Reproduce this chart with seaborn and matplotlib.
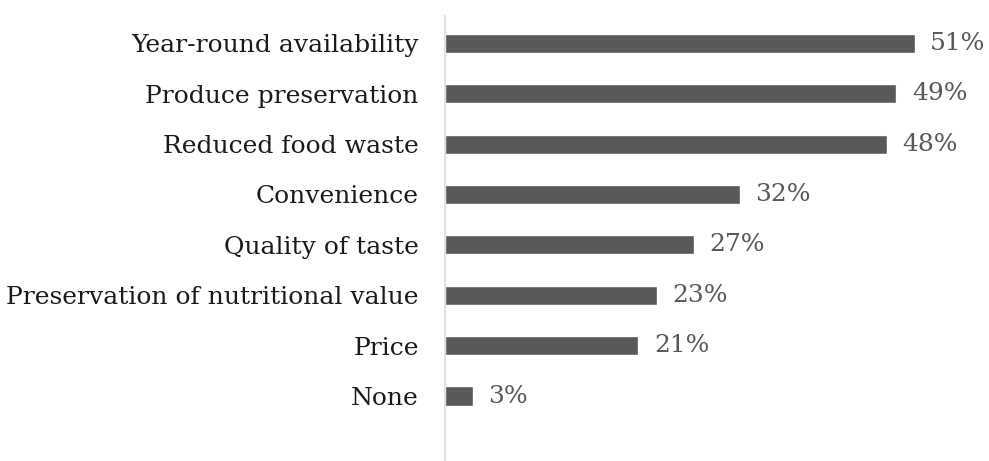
import pandas as pd
import numpy as np
import matplotlib.pyplot as plt
import seaborn as sns

categories = ['Year-round availability', 'Produce preservation', 'Reduced food waste',
              'Convenience', 'Quality of taste', 'Preservation of nutritional value',
              'Price', 'None']
values = [51, 49, 48, 32, 27, 23, 21, 3]

df = pd.DataFrame({'category': categories, 'value': values})

sns.set_style('white')
plt.rcParams['font.family'] = ['DejaVu Serif']

fig = plt.figure(figsize=(9.89, 4.61), dpi=100)
ax = fig.add_axes([0.45, 0.0, 0.54, 0.965])

sns.barplot(data=df, x='value', y='category', orient='h', color='#595959',
            width=0.38, saturation=1, ax=ax)

# value labels right of each bar
for i, v in enumerate(df['value']):
    ax.text(v + 1.7, i, f'{v}%', va='center', ha='left', fontsize=18, color='#595959')

ax.set_xlim(0, 58)
ax.set_ylim(8.29, -0.54)
ax.set_xlabel('')
ax.set_ylabel('')
ax.set_xticks([])
ax.tick_params(axis='y', length=0, pad=19, labelsize=18, labelcolor='#1a1a1a')
for s in ['top', 'right', 'bottom']:
    ax.spines[s].set_visible(False)
ax.spines['left'].set_color('#d9d9d9')
ax.spines['left'].set_linewidth(1.2)

fig.savefig('out.png', dpi=100)
